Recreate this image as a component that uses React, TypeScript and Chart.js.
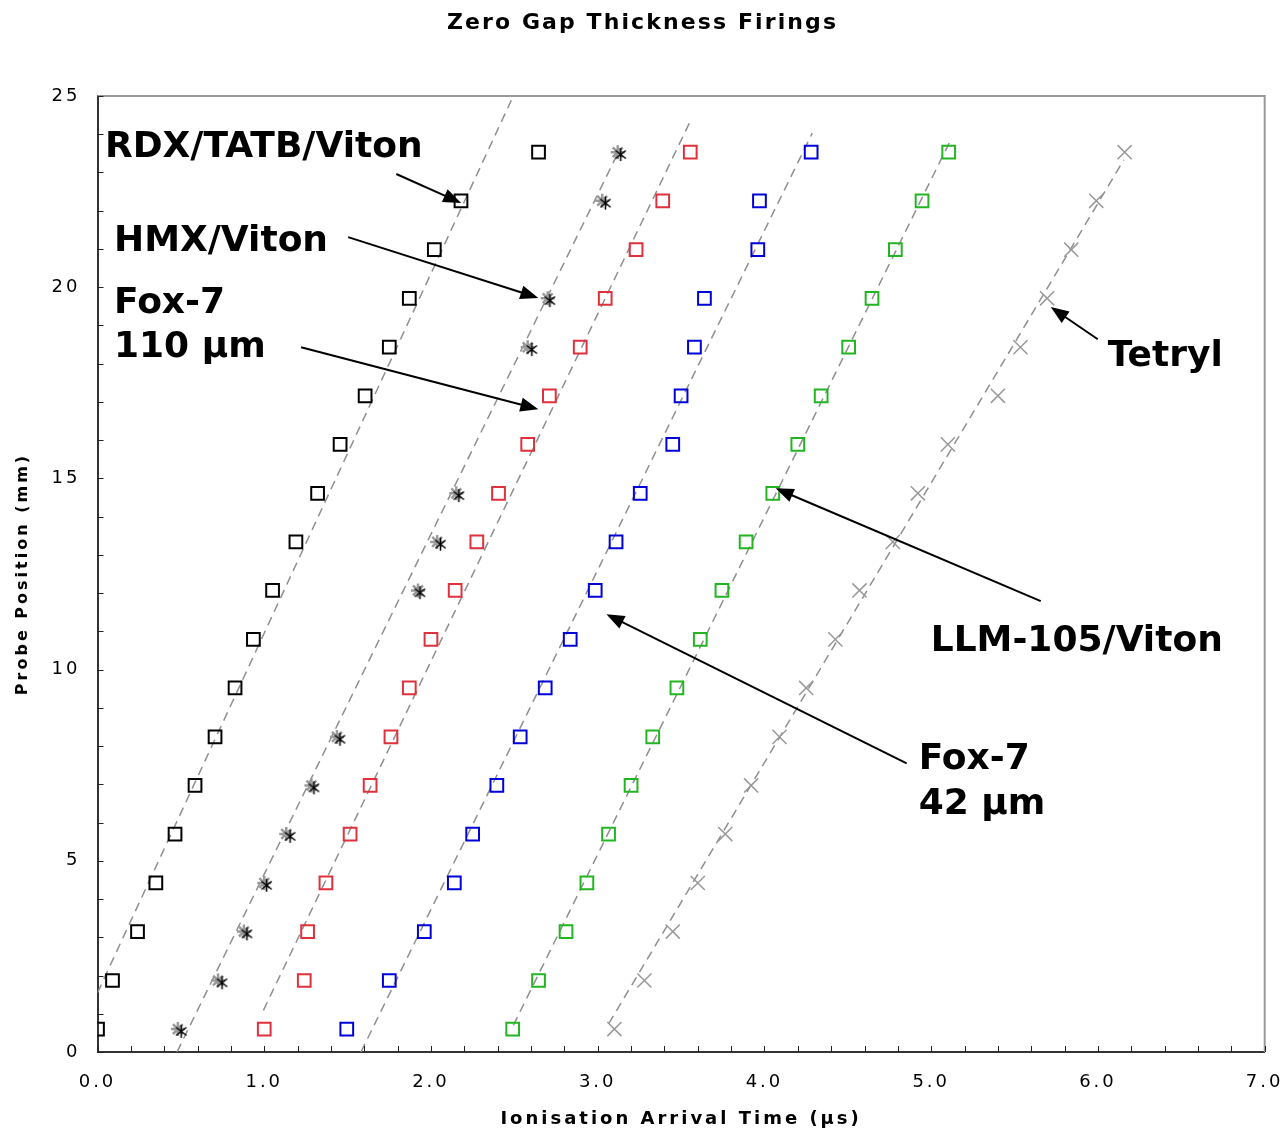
import React, { useEffect, useRef } from 'react';
import { Chart, registerables } from 'chart.js';

Chart.register(...registerables);

// Probe positions (mm)
const probePositions = [0.60, 1.87, 3.15, 4.42, 5.70, 6.97, 8.24, 9.52, 10.79, 12.07, 13.34, 14.61, 15.89, 17.16, 18.43, 19.71, 20.98, 22.26, 23.53];
const hmxProbePositions = [0.54, 1.81, 3.09, 4.36, 5.64, 6.91, 8.18, null, null, 12.01, 13.28, 14.55, null, null, 18.37, 19.65, null, 22.20, 23.47];

// Arrival times (µs)
const rdxTimes = [0.00, 0.09, 0.24, 0.35, 0.465, 0.585, 0.705, 0.825, 0.935, 1.05, 1.19, 1.32, 1.455, 1.605, 1.75, 1.87, 2.02, 2.18, 2.645];
const hmxTimesA = [0.502, 0.747, 0.896, 1.014, 1.155, 1.298, 1.454, null, null, 1.934, 2.057, 2.167, null, null, 2.605, 2.713, null, 3.046, 3.138];
const hmxTimesB = [0.482, 0.723, 0.878, 1.00, 1.132, 1.283, 1.436, null, null, 1.922, 2.037, 2.152, null, null, 2.58, 2.70, null, 3.027, 3.12];
const fox110Times = [1.00, 1.24, 1.26, 1.37, 1.515, 1.635, 1.76, 1.87, 2.00, 2.145, 2.275, 2.405, 2.58, 2.71, 2.895, 3.045, 3.23, 3.39, 3.555];
const fox42Times = [1.495, 1.75, 1.96, 2.14, 2.25, 2.395, 2.535, 2.685, 2.835, 2.985, 3.11, 3.255, 3.45, 3.50, 3.58, 3.64, 3.96, 3.97, 4.28];
const llm105Times = [2.49, 2.645, 2.81, 2.935, 3.065, 3.20, 3.33, 3.475, 3.615, 3.745, 3.89, 4.05, 4.20, 4.34, 4.505, 4.645, 4.785, 4.945, 5.105];
const tetrylTimes = [3.10, 3.28, 3.45, 3.60, 3.765, 3.92, 4.09, 4.25, 4.425, 4.57, 4.77, 4.92, 5.10, 5.40, 5.535, 5.695, 5.84, 5.99, 6.16];

// Linear fit lines: start / end (time µs, position mm)
const fitStartTimes = [0.00, 0.477, 0.995, 1.58, 2.494, 3.066];
const fitStartPos = [1.55, 0.00, 1.09, 0.00, 0.70, 0.74];
const fitEndTimes = [2.482, 3.136, 3.556, 4.287, 5.111, 6.155];
const fitEndPos = [24.89, 23.64, 24.35, 24.03, 23.80, 23.33];

// Axis ticks
const xTickStep = 1;
const yTickStep = 5;

// Annotations (data coordinates): text anchor (left, baseline), arrows
const labelTexts = ['RDX/TATB/Viton', 'HMX/Viton', 'Fox-7', '110 µm', 'Tetryl', 'LLM-105/Viton', 'Fox-7', '42 µm'];
const labelX = [0.045, 0.099, 0.099, 0.099, 6.059, 4.997, 4.925, 4.925];
const labelY = [23.40, 20.94, 19.32, 18.17, 17.94, 10.48, 7.39, 6.22];
const arrowTailX = [1.792, 1.503, 1.221, 5.999, 5.657, 4.853];
const arrowTailY = [22.96, 21.31, 18.43, 18.64, 11.79, 7.55];
const arrowHeadX = [2.181, 2.644, 2.644, 5.717, 4.067, 3.052];
const arrowHeadY = [22.20, 19.72, 16.81, 19.48, 14.74, 11.45];

const FONT = "'DejaVu Sans', Verdana, sans-serif";
const PAGE_W = 1283;
const PAGE_H = 1132;
// canvas is a little wider than the page; the x axis reserves room for its last label
const CANVAS_W = PAGE_W + 16;

function pts(xs: (number | null)[], ys: (number | null)[]) {
  const out: { x: number; y: number }[] = [];
  xs.forEach((x, i) => {
    const y = ys[i];
    if (x !== null && y !== null) out.push({ x, y });
  });
  return out;
}

function makeAsterisk(color: string, size: number, lw: number) {
  const c = document.createElement('canvas');
  c.width = size;
  c.height = size;
  const g = c.getContext('2d')!;
  g.strokeStyle = color;
  g.lineWidth = lw;
  const r = size / 2 - 1;
  const cx = size / 2;
  [90, 38, 142].forEach((deg) => {
    const a = (deg * Math.PI) / 180;
    g.beginPath();
    g.moveTo(cx - r * Math.cos(a), cx - r * Math.sin(a));
    g.lineTo(cx + r * Math.cos(a), cx + r * Math.sin(a));
    g.stroke();
  });
  return c;
}

const decorPlugin = {
  id: 'decor',
  beforeDraw(chart: any) {
    (chart.ctx as any).letterSpacing = '3px';
  },
  afterDraw(chart: any) {
    const { ctx, chartArea: a, scales } = chart;
    const xs = scales.x;
    const ys = scales.y;
    ctx.save();
    (ctx as any).letterSpacing = '0px';
    // top & right frame
    ctx.strokeStyle = '#999';
    ctx.lineWidth = 2;
    ctx.beginPath();
    ctx.moveTo(a.left, a.top);
    ctx.lineTo(a.right, a.top);
    ctx.lineTo(a.right, a.bottom);
    ctx.stroke();
    // inward tick marks
    ctx.strokeStyle = '#222';
    ctx.lineWidth = 1;
    ctx.beginPath();
    for (let i = 0; i <= 35; i++) {
      const px = Math.round(xs.getPixelForValue(i * 0.2)) + 0.5;
      ctx.moveTo(px, a.bottom);
      ctx.lineTo(px, a.bottom - 6);
    }
    for (let i = 0; i <= 25; i++) {
      const py = Math.round(ys.getPixelForValue(i)) + 0.5;
      ctx.moveTo(a.left, py);
      ctx.lineTo(a.left + 6, py);
    }
    ctx.stroke();
    // title
    ctx.fillStyle = '#000';
    ctx.font = `bold 22px ${FONT}`;
    (ctx as any).letterSpacing = '2.1px';
    ctx.textAlign = 'center';
    ctx.textBaseline = 'middle';
    ctx.fillText('Zero Gap Thickness Firings', PAGE_W / 2 + 1, 23);
    (ctx as any).letterSpacing = '0px';
    // annotation labels
    ctx.font = `bold 36px ${FONT}`;
    ctx.textAlign = 'left';
    ctx.textBaseline = 'alphabetic';
    labelTexts.forEach((t, i) => {
      ctx.fillText(t, xs.getPixelForValue(labelX[i]), ys.getPixelForValue(labelY[i]));
    });
    // arrows
    ctx.strokeStyle = '#000';
    ctx.fillStyle = '#000';
    ctx.lineWidth = 2;
    arrowTailX.forEach((_, i) => {
      const x1 = xs.getPixelForValue(arrowTailX[i]);
      const y1 = ys.getPixelForValue(arrowTailY[i]);
      const x2 = xs.getPixelForValue(arrowHeadX[i]);
      const y2 = ys.getPixelForValue(arrowHeadY[i]);
      const ang = Math.atan2(y2 - y1, x2 - x1);
      const L = 18;
      const W = 7;
      const c = Math.cos(ang);
      const s = Math.sin(ang);
      ctx.beginPath();
      ctx.moveTo(x1, y1);
      ctx.lineTo(x2 - L * 0.8 * c, y2 - L * 0.8 * s);
      ctx.stroke();
      ctx.beginPath();
      ctx.moveTo(x2, y2);
      ctx.lineTo(x2 - L * c + W * s, y2 - L * s - W * c);
      ctx.lineTo(x2 - L * c - W * s, y2 - L * s + W * c);
      ctx.closePath();
      ctx.fill();
    });
    ctx.restore();
  },
};

export default function App() {
  const ref = useRef<HTMLCanvasElement | null>(null);

  useEffect(() => {
    if (!ref.current) return;
    const asterisk = makeAsterisk('#000', 15, 1.5);
    const square = (color: string, label: string, xsArr: number[]) => ({
      label,
      data: pts(xsArr, probePositions),
      pointStyle: 'rect',
      pointRadius: 9,
      pointHoverRadius: 9,
      borderColor: color,
      backgroundColor: 'rgba(0,0,0,0)',
      borderWidth: 2,
      showLine: false,
      order: 1,
    });
    const fitLines = fitStartTimes.map((_, i) => ({
      label: 'fit' + i,
      data: [
        { x: fitStartTimes[i], y: fitStartPos[i] },
        { x: fitEndTimes[i], y: fitEndPos[i] },
      ],
      showLine: true,
      borderColor: '#8f8f8f',
      borderWidth: 1.5,
      borderDash: [9, 6],
      pointRadius: 0,
      fill: false,
      order: 5,
    }));
    const chart = new Chart(ref.current, {
      type: 'scatter',
      data: {
        datasets: [
          {
            label: 'HMX/Viton',
            data: pts(hmxTimesA, hmxProbePositions),
            pointStyle: asterisk as any,
            pointRadius: 7,
            borderColor: '#000',
            backgroundColor: '#000',
            showLine: false,
            order: 0,
          },
          {
            label: 'HMX/Viton (2)',
            data: pts(hmxTimesB, probePositions),
            pointStyle: 'star',
            pointRadius: 7,
            borderColor: '#9a9a9a',
            backgroundColor: '#9a9a9a',
            borderWidth: 2.5,
            showLine: false,
            order: 2,
          },
          square('#000000', 'RDX/TATB/Viton', rdxTimes),
          square('#e0303c', 'Fox-7 110 µm', fox110Times),
          square('#0000d8', 'Fox-7 42 µm', fox42Times),
          square('#22b522', 'LLM-105/Viton', llm105Times),
          {
            label: 'Tetryl',
            data: pts(tetrylTimes, probePositions),
            pointStyle: 'crossRot',
            pointRadius: 10,
            borderColor: '#999999',
            borderWidth: 1.5,
            showLine: false,
            order: 1,
          },
          ...fitLines,
        ] as any,
      },
      options: {
        responsive: false,
        animation: false,
        devicePixelRatio: 1,
        events: [],
        layout: { padding: { left: 0, top: 96, right: 3, bottom: 0 } },
        plugins: {
          legend: { display: false },
          tooltip: { enabled: false },
          title: { display: false },
        },
        scales: {
          x: {
            type: 'linear',
            min: 0,
            max: 7,
            afterFit: (s: any) => {
              s.height = 80;
            },
            grid: { display: false, drawTicks: false },
            border: { display: true, color: '#333', width: 2 },
            ticks: {
              stepSize: xTickStep,
              padding: 20,
              color: '#000',
              font: { family: FONT, size: 18 },
              callback: (v: any) => Number(v).toFixed(1),
            },
            title: {
              display: true,
              text: 'Ionisation Arrival Time (µs)',
              color: '#000',
              font: { family: FONT, size: 18, weight: 'bold' },
              padding: { top: 0, bottom: 2 },
            },
          },
          y: {
            type: 'linear',
            min: 0,
            max: 25,
            afterFit: (s: any) => {
              s.width = 97.5;
            },
            grid: { display: false, drawTicks: false },
            border: { display: true, color: '#333', width: 2 },
            ticks: {
              stepSize: yTickStep,
              padding: 17,
              color: '#000',
              font: { family: FONT, size: 18 },
            },
            title: {
              display: true,
              text: 'Probe Position (mm)',
              color: '#000',
              font: { family: FONT, size: 16, weight: 'bold' },
              padding: { top: 13, bottom: 0 },
            },
          },
        },
      },
      plugins: [decorPlugin],
    });
    return () => chart.destroy();
  }, []);

  return (
    <div style={{ position: 'absolute', left: 0, top: 0, width: PAGE_W, height: PAGE_H, overflow: 'hidden', background: '#fff' }}>
      <canvas ref={ref} width={CANVAS_W} height={PAGE_H} style={{ display: 'block', width: CANVAS_W, height: PAGE_H }} />
    </div>
  );
}
